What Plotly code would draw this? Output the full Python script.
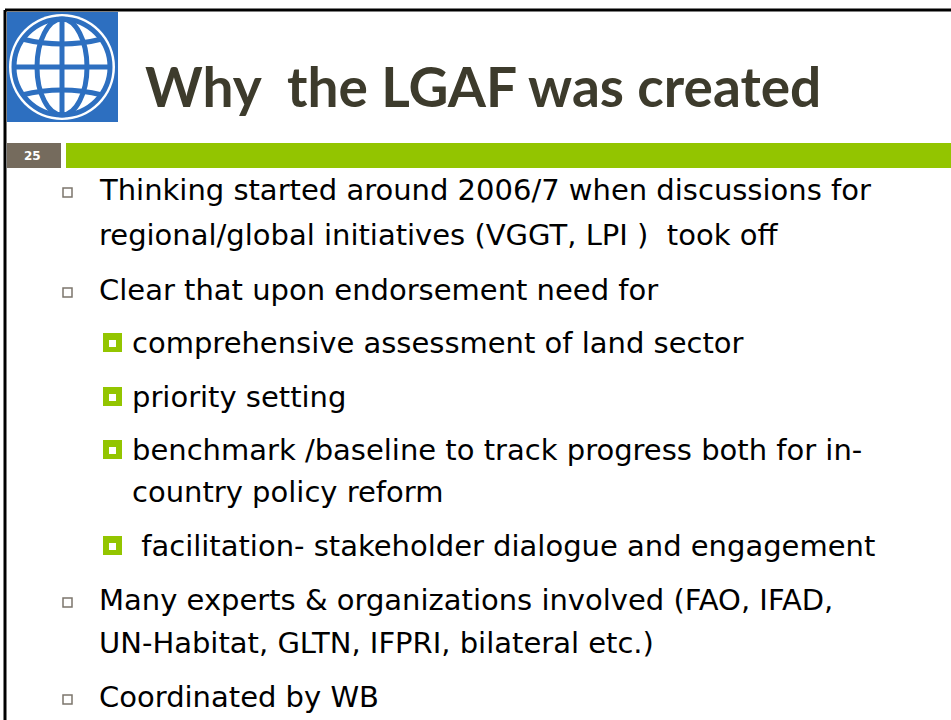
import plotly.graph_objects as go

# slide content
titulo = "Why  the LGAF was created"
numero_slide = "25"

linhas = [
    "Thinking started around 2006/7 when discussions for",
    "regional/global initiatives (VGGT, LPI )  took off",
    "Clear that upon endorsement need for",
    "comprehensive assessment of land sector",
    "priority setting",
    "benchmark /baseline to track progress both for in-",
    "country policy reform",
    " facilitation- stakeholder dialogue and engagement",
    "Many experts & organizations involved (FAO, IFAD,",
    "UN-Habitat, GLTN, IFPRI, bilateral etc.)",
    "Coordinated by WB",
]
niveis = [1, 1, 1, 2, 2, 2, 2, 2, 1, 1, 1]
tem_marcador = [True, False, True, True, True, True, False, True, True, False, True]
linha_y = [190, 235, 290, 343, 397, 450, 492, 546, 600, 643, 697]

W, H = 951, 720
VERDE = "#93c500"
CINZA = "#756b5d"
AZUL = "#2d6fc0"
FONTE = "DejaVu Sans"

fig = go.Figure()
shapes = []
annotations = []

# borders
shapes.append(dict(type="line", x0=5, x1=W, y0=10, y1=10, line=dict(color="black", width=3)))
shapes.append(dict(type="line", x0=5, x1=5, y0=10, y1=H, line=dict(color="black", width=3)))

# logo
cx, cy = 62, 67
shapes.append(dict(type="rect", x0=7, x1=118, y0=12, y1=122, fillcolor=AZUL, line_width=0))
shapes.append(dict(type="circle", x0=cx - 53, x1=cx + 53, y0=cy - 53, y1=cy + 53,
                   fillcolor="white", line_width=0))
shapes.append(dict(type="circle", x0=cx - 48, x1=cx + 48, y0=cy - 48, y1=cy + 48,
                   fillcolor="white", line=dict(color=AZUL, width=5)))
shapes.append(dict(type="line", x0=cx, x1=cx, y0=cy - 48, y1=cy + 48, line=dict(color=AZUL, width=5)))
shapes.append(dict(type="line", x0=cx - 48, x1=cx + 48, y0=cy, y1=cy, line=dict(color=AZUL, width=5)))
shapes.append(dict(type="circle", x0=cx - 25, x1=cx + 25, y0=cy - 48, y1=cy + 48,
                   line=dict(color=AZUL, width=5)))
for s in (-1, 1):
    ya = cy + s * 28
    yc = cy + s * 18
    shapes.append(dict(type="path",
                       path=f"M {cx-40} {ya} Q {cx} {yc} {cx+40} {ya}",
                       line=dict(color=AZUL, width=5)))

# number box and green bar
shapes.append(dict(type="rect", x0=7, x1=61, y0=143, y1=168, fillcolor=CINZA, line_width=0))
shapes.append(dict(type="rect", x0=66, x1=W, y0=143, y1=168, fillcolor=VERDE, line_width=0))
annotations.append(dict(x=32, y=156, text=f"<b>{numero_slide}</b>", showarrow=False,
                        xanchor="center", yanchor="middle",
                        font=dict(family=FONTE, size=12, color="white")))

# title
annotations.append(dict(x=143, y=86, text=f"<b>{titulo}</b>", showarrow=False,
                        xanchor="left", yanchor="middle",
                        font=dict(family="Lato", size=55, color="#3d3b2c")))

# bullets and text
for texto, nivel, marca, y in zip(linhas, niveis, tem_marcador, linha_y):
    if nivel == 1:
        x_txt = 97
        if marca:
            shapes.append(dict(type="rect", x0=63, x1=72, y0=y - 2, y1=y + 7,
                               fillcolor="white", line=dict(color="#7c766c", width=1.5)))
    else:
        x_txt = 130
        if marca:
            shapes.append(dict(type="rect", x0=103, x1=122, y0=y - 10, y1=y + 9,
                               fillcolor=VERDE, line_width=0))
            shapes.append(dict(type="rect", x0=109, x1=116, y0=y - 3, y1=y + 4,
                               fillcolor="white", line_width=0))
    annotations.append(dict(x=x_txt, y=y, text=texto.replace(" ", "&nbsp;") if texto.startswith(" ") else texto,
                            showarrow=False, xanchor="left", yanchor="middle",
                            font=dict(family=FONTE, size=29, color="black")))

fig.update_layout(
    width=W, height=H,
    margin=dict(l=0, r=0, t=0, b=0),
    paper_bgcolor="white", plot_bgcolor="white",
    xaxis=dict(range=[0, W], visible=False, fixedrange=True),
    yaxis=dict(range=[H, 0], visible=False, fixedrange=True),
    shapes=shapes, annotations=annotations, showlegend=False,
)

fig.write_html("out.html", config={"staticPlot": True},
               post_script="document.body.style.margin='0';")
